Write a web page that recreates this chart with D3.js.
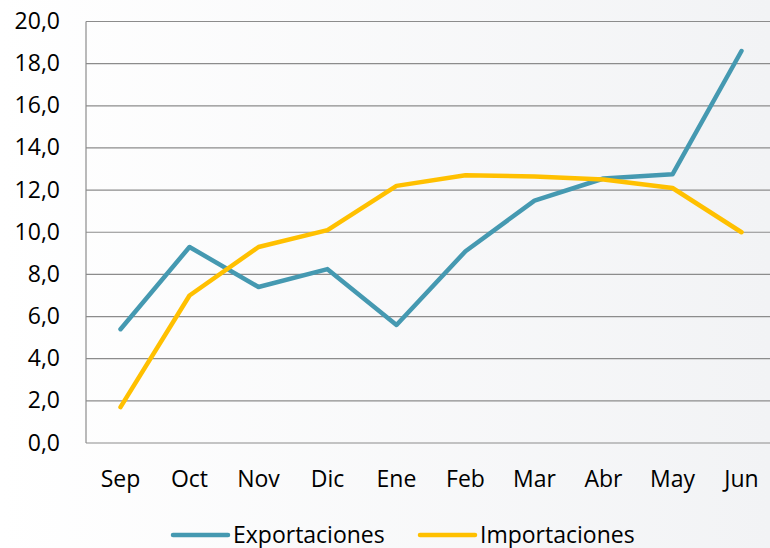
<!DOCTYPE html>
<html>
<head>
<meta charset="utf-8">
<script src="https://cdn.jsdelivr.net/npm/d3@7"></script>
<style>
  body { margin: 0; background: #fff; }
  svg { display: block; font-family: "Open Sans", sans-serif; }
</style>
</head>
<body>
<div id="container"></div>
<script>
const months = ['Sep', 'Oct', 'Nov', 'Dic', 'Ene', 'Feb', 'Mar', 'Abr', 'May', 'Jun'];
const exportaciones = [5.4, 9.3, 7.4, 8.25, 5.6, 9.1, 11.5, 12.55, 12.75, 18.6];
const importaciones = [1.7, 7.0, 9.3, 10.1, 12.2, 12.7, 12.65, 12.5, 12.1, 10.0];
const yTicks = [0, 2, 4, 6, 8, 10, 12, 14, 16, 18, 20];

const WIDTH = 770;
const HEIGHT = 548;

const series = [
  { name: 'Exportaciones', values: exportaciones, color: '#4599b1' },
  { name: 'Importaciones', values: importaciones, color: '#ffc000' }
];

let canvas = d3.select('#container').append('svg').attr('width', WIDTH).attr('height', HEIGHT);

let grad = canvas.append('defs').append('linearGradient').attr('id', 'bg').attr('x1', 0).attr('x2', 1).attr('y1', 0).attr('y2', 0);
grad.append('stop').attr('offset', '0%').attr('stop-color', '#ffffff');
grad.append('stop').attr('offset', '100%').attr('stop-color', '#f2f3f5');
canvas.append('rect').attr('width', WIDTH).attr('height', HEIGHT).attr('fill', 'url(#bg)');

// band runs past the right edge, as in the original
let x = d3.scaleBand().domain(months).range([86, 776]);
let y = d3.scaleLinear().domain([0, 20]).range([443, 21.5]);

// grid
canvas.append('g')
  .selectAll('line')
  .data(yTicks)
  .join('line')
  .attr('x1', 86).attr('x2', 776)
  .attr('y1', (d) => y(d)).attr('y2', (d) => y(d))
  .attr('stroke', '#8c8c8c').attr('stroke-width', 1.2);

canvas.append('line')
  .attr('x1', 86).attr('x2', 86)
  .attr('y1', y(0)).attr('y2', y(20))
  .attr('stroke', '#8c8c8c').attr('stroke-width', 1.2);

// y labels
canvas.append('g')
  .attr('font-size', 23)
  .attr('text-anchor', 'end')
  .attr('fill', '#000')
  .selectAll('text')
  .data(yTicks)
  .join('text')
  .attr('x', 60)
  .attr('y', (d) => y(d) + 7.5)
  .text((d) => d3.format('.1f')(d).replace('.', ','));

// x labels
canvas.append('g')
  .attr('font-size', 23)
  .attr('text-anchor', 'middle')
  .attr('fill', '#000')
  .selectAll('text')
  .data(months)
  .join('text')
  .attr('x', (d) => x(d) + x.bandwidth() / 2)
  .attr('y', 487)
  .text((d) => d);

let line = d3.line()
  .x((d, i) => x(months[i]) + x.bandwidth() / 2)
  .y((d) => y(d));

canvas.append('g')
  .selectAll('path')
  .data(series)
  .join('path')
  .attr('d', (d) => line(d.values))
  .attr('fill', 'none')
  .attr('stroke', (d) => d.color)
  .attr('stroke-width', 4.5)
  .attr('stroke-linejoin', 'round')
  .attr('stroke-linecap', 'round');

// legend
let legend = canvas.append('g')
  .selectAll('g')
  .data(series)
  .join('g')
  .attr('transform', (d, i) => `translate(${173 + i * 247},535)`);

legend.append('line')
  .attr('x1', 0).attr('x2', 55)
  .attr('stroke', (d) => d.color)
  .attr('stroke-width', 4.5)
  .attr('stroke-linecap', 'round');

legend.append('text')
  .attr('x', 60)
  .attr('y', 7.5)
  .attr('font-size', 23)
  .text((d) => d.name);
</script>
</body>
</html>
